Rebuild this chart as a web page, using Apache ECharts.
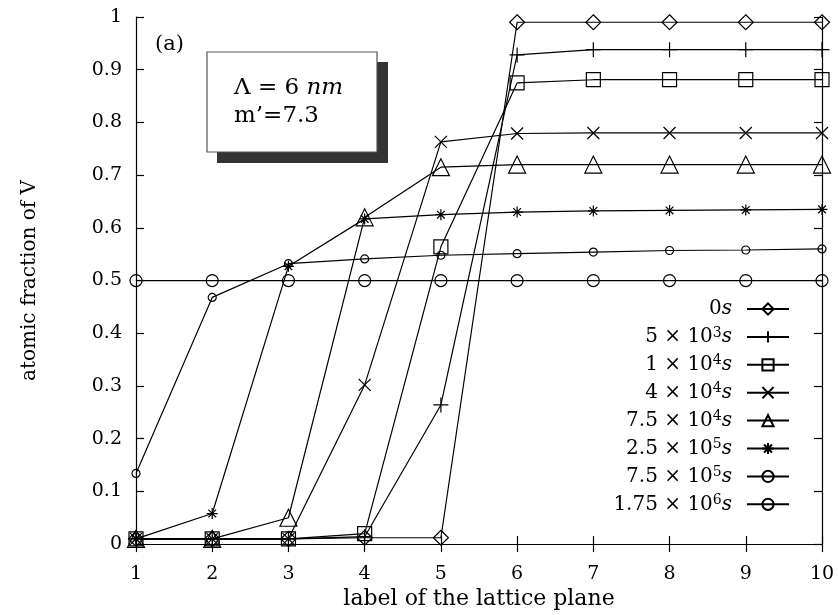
<!DOCTYPE html>
<html>
<head>
<meta charset="utf-8">
<script src="https://cdn.jsdelivr.net/npm/echarts@6/dist/echarts.min.js"></script>
<style>
  html, body { margin: 0; padding: 0; background: #fff; }
  #main { width: 838px; height: 615px; }
</style>
</head>
<body>
<div id="main"></div>
<script>
// lattice plane labels
const planes = [1, 2, 3, 4, 5, 6, 7, 8, 9, 10];

// atomic fraction of V for each annealing time
const t0s     = [0.01, 0.01, 0.01, 0.012, 0.012, 0.99, 0.99, 0.99, 0.99, 0.99];
const t5e3    = [0.01, 0.01, 0.01, 0.014, 0.264, 0.928, 0.938, 0.938, 0.938, 0.938];
const t1e4    = [0.01, 0.01, 0.01, 0.02, 0.564, 0.875, 0.881, 0.881, 0.881, 0.881];
const t4e4    = [0.01, 0.01, 0.01, 0.302, 0.763, 0.779, 0.78, 0.78, 0.78, 0.78];
const t7_5e4  = [0.01, 0.01, 0.05, 0.62, 0.715, 0.72, 0.72, 0.72, 0.72, 0.72];
const t2_5e5  = [0.01, 0.058, 0.527, 0.617, 0.625, 0.63, 0.632, 0.633, 0.634, 0.635];
const t7_5e5  = [0.134, 0.468, 0.532, 0.541, 0.548, 0.551, 0.554, 0.557, 0.558, 0.56];
const t1_75e6 = [0.5, 0.5, 0.5, 0.5, 0.5, 0.5, 0.5, 0.5, 0.5, 0.5];

// legend labels (mantissa e exponent)
const legendNames = ['0s', '5e3', '1e4', '4e4', '7.5e4', '2.5e5', '7.5e5', '1.75e6'];

const FONT = 'DejaVu Serif';

const SYM = {
  plus: 'path://M5 0L5 10M0 5L10 5',
  cross: 'path://M0 0L10 10M10 0L0 10',
  star: 'path://M5 0L5 10M0 5L10 5M1.5 1.5L8.5 8.5M8.5 1.5L1.5 8.5'
};

const seriesDefs = [
  { name: legendNames[0], data: t0s, symbol: 'diamond', size: 15 },
  { name: legendNames[1], data: t5e3, symbol: SYM.plus, size: 15 },
  { name: legendNames[2], data: t1e4, symbol: 'rect', size: 14 },
  { name: legendNames[3], data: t4e4, symbol: SYM.cross, size: 12 },
  { name: legendNames[4], data: t7_5e4, symbol: 'triangle', size: 17 },
  { name: legendNames[5], data: t2_5e5, symbol: SYM.star, size: 11 },
  { name: legendNames[6], data: t7_5e5, symbol: 'circle', size: 8 },
  { name: legendNames[7], data: t1_75e6, symbol: 'circle', size: 12 }
];

function legendText(name) {
  if (name === '0s') return '{a|0}{i|s}{g|}';
  const parts = name.split('e');
  return '{a|' + parts[0] + ' × 10}{sup|' + parts[1] + '}{i|s}{g|}';
}

const chart = echarts.init(document.getElementById('main'));

const axisLine = { show: true, lineStyle: { color: '#000', width: 1.2 } };
const tick = { show: true, inside: true, length: 8, lineStyle: { color: '#000', width: 1.2 } };

chart.setOption({
  animation: false,
  backgroundColor: '#fff',
  grid: { left: 136, right: 16, top: 17, bottom: 68 },
  xAxis: [
    {
      type: 'value', min: 1, max: 10, interval: 1, position: 'bottom',
      name: 'label of the lattice plane', nameLocation: 'middle', nameGap: 43,
      nameTextStyle: { fontFamily: FONT, fontSize: 22, color: '#000' },
      axisLine: axisLine, axisTick: tick, splitLine: { show: false },
      axisLabel: { fontFamily: FONT, fontSize: 19, color: '#000', margin: 20 }
    },
    {
      type: 'value', min: 1, max: 10, interval: 1, position: 'top',
      axisLine: axisLine, axisTick: tick, splitLine: { show: false },
      axisLabel: { show: false }
    }
  ],
  yAxis: [
    {
      type: 'value', min: 0, max: 1, interval: 0.1, position: 'left',
      name: 'atomic fraction of V', nameLocation: 'middle', nameGap: 96,
      nameTextStyle: { fontFamily: FONT, fontSize: 20, color: '#000' },
      axisLine: axisLine, axisTick: tick, splitLine: { show: false },
      axisLabel: { fontFamily: FONT, fontSize: 19, color: '#000', margin: 14 }
    },
    {
      type: 'value', min: 0, max: 1, interval: 0.1, position: 'right',
      axisLine: axisLine, axisTick: tick, splitLine: { show: false },
      axisLabel: { show: false }
    }
  ],
  legend: {
    orient: 'vertical',
    align: 'right',
    right: 43,
    top: 294,
    itemWidth: 42,
    itemHeight: 14,
    itemGap: 6.9,
    formatter: legendText,
    textStyle: {
      color: '#000',
      rich: {
        a: { fontFamily: FONT, fontSize: 20, lineHeight: 22, color: '#000' },
        i: { fontFamily: FONT, fontStyle: 'italic', fontSize: 20, lineHeight: 22, color: '#000' },
        sup: { fontFamily: FONT, fontSize: 14, lineHeight: 13, verticalAlign: 'top', color: '#000' },
        g: { width: 10 }
      }
    },
    data: legendNames
  },
  series: seriesDefs.map(function (s) {
    return {
      name: s.name,
      type: 'line',
      data: planes.map(function (x, i) { return [x, s.data[i]]; }),
      symbol: s.symbol,
      symbolSize: s.size,
      showAllSymbol: true,
      lineStyle: { color: '#000', width: 1.2 },
      itemStyle: { color: 'none', borderColor: '#000', borderWidth: 1.2 },
      emphasis: { disabled: true },
      z: 3
    };
  }),
  graphic: [
    {
      type: 'rect', z: 10,
      shape: { x: 217, y: 62, width: 171, height: 101 },
      style: { fill: '#333' }
    },
    {
      type: 'rect', z: 11,
      shape: { x: 207, y: 52, width: 170, height: 100 },
      style: { fill: '#fff', stroke: '#555', lineWidth: 1.2 }
    },
    {
      type: 'text', z: 12, x: 234, y: 77,
      style: {
        text: '{a|Λ = 6 }{i|nm}',
        rich: {
          a: { fontFamily: FONT, fontSize: 23, fill: '#000' },
          i: { fontFamily: FONT, fontSize: 23, fontStyle: 'italic', fill: '#000' }
        }
      }
    },
    {
      type: 'text', z: 12, x: 234, y: 105,
      style: { text: 'm’=7.3', fontFamily: FONT, fontSize: 23, fill: '#000' }
    },
    {
      type: 'text', z: 12, x: 155, y: 34,
      style: { text: '(a)', fontFamily: FONT, fontSize: 21, fill: '#000' }
    }
  ]
});
</script>
</body>
</html>
